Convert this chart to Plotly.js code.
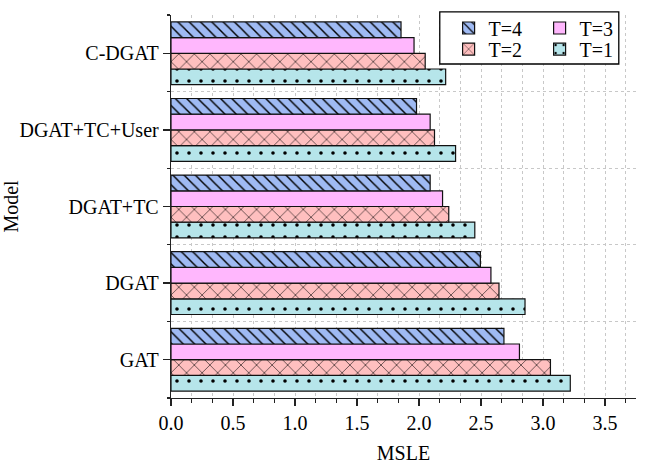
<!DOCTYPE html>
<html>
<head>
<meta charset="utf-8">
<script src="https://cdn.plot.ly/plotly-3.0.1.min.js"></script>
<style>html,body{margin:0;padding:0;background:#fff;}#chart{width:645px;height:464px;}</style>
</head>
<body>
<div id="chart"></div>
<script>
// Models listed bottom-to-top as drawn on the y axis
const models = ['GAT', 'DGAT', 'DGAT+TC', 'DGAT+TC+User', 'C-DGAT'];
const seriesNames = ['T=1', 'T=2', 'T=3', 'T=4'];
const msleT1 = [3.22, 2.855, 2.45, 2.295, 2.215];
const msleT2 = [3.06, 2.645, 2.24, 2.125, 2.05];
const msleT3 = [2.81, 2.58, 2.19, 2.09, 1.96];
const msleT4 = [2.685, 2.495, 2.09, 1.98, 1.855];
const xTickVals = [0, 0.5, 1, 1.5, 2, 2.5, 3, 3.5];
const xTickText = ['0.0', '0.5', '1.0', '1.5', '2.0', '2.5', '3.0', '3.5'];

const pos = models.map((m, i) => i);
const FONT = 'Liberation Serif';

const styles = [
  {color: '#b6e5ea', shape: '.', size: 12, solidity: 0.07, legend: 'legend2'},
  {color: '#ffbfbf', shape: 'x', size: 11, solidity: 0.1, legend: 'legend2'},
  {color: '#ffb7fd', shape: '', size: 8, solidity: 0.2, legend: 'legend'},
  {color: '#9fbaf3', shape: '\\', size: 8, solidity: 0.18, legend: 'legend'}
];
const values = [msleT1, msleT2, msleT3, msleT4];

const traces = values.map((v, k) => ({
  type: 'bar',
  orientation: 'h',
  name: seriesNames[k],
  x: v,
  y: pos,
  legend: styles[k].legend,
  marker: {
    color: styles[k].color,
    line: {color: '#111', width: 1.2},
    pattern: {
      shape: styles[k].shape, fillmode: 'replace',
      bgcolor: styles[k].color, fgcolor: '#000',
      size: styles[k].size, solidity: styles[k].solidity
    }
  },
  hoverinfo: 'x+name'
}));

const legendCommon = {
  orientation: 'h',
  traceorder: 'reversed',
  xanchor: 'left',
  yanchor: 'top',
  bgcolor: 'rgba(0,0,0,0)',
  borderwidth: 0,
  font: {family: FONT, size: 20, color: '#000'},
  entrywidth: 46,
  entrywidthmode: 'pixels',
  itemwidth: 30
};

const layout = {
  width: 645,
  height: 464,
  margin: {l: 171, r: 9, t: 8, b: 66},
  paper_bgcolor: '#fff',
  plot_bgcolor: '#fff',
  font: {family: FONT, size: 20, color: '#000'},
  barmode: 'group',
  bargap: 0.18,
  bargroupgap: 0,
  showlegend: true,
  legend: Object.assign({}, legendCommon, {x: 0.597, y: 1.017}),
  legend2: Object.assign({}, legendCommon, {x: 0.597, y: 0.962}),
  xaxis: {
    range: [0, 3.75],
    tickmode: 'array',
    tickvals: xTickVals,
    ticktext: xTickText,
    ticks: 'outside',
    ticklen: 7,
    tickwidth: 1.3,
    tickcolor: '#222',
    showline: true,
    linecolor: '#222',
    linewidth: 1.3,
    showgrid: true,
    gridcolor: '#c8c8c8',
    griddash: 'dot',
    gridwidth: 1,
    zeroline: false,
    tickfont: {family: FONT, size: 20, color: '#000'},
    minor: {
      tick0: 0, dtick: 0.5 / 3, ticks: 'outside', ticklen: 4, tickwidth: 1.2, tickcolor: '#222',
      showgrid: true, gridcolor: '#c8c8c8', griddash: 'dot', gridwidth: 1
    },
    title: {text: 'MSLE', font: {family: FONT, size: 20, color: '#000'}, standoff: 18}
  },
  yaxis: {
    range: [-0.5, 4.5],
    tickmode: 'array',
    tickvals: pos,
    ticktext: models,
    ticks: 'outside',
    ticklen: 7,
    tickwidth: 1.3,
    tickcolor: '#222',
    showline: true,
    linecolor: '#222',
    linewidth: 1.3,
    showgrid: false,
    zeroline: false,
    tickfont: {family: FONT, size: 20, color: '#000'},
    minor: {
      tick0: 0.5, dtick: 1, ticks: 'outside', ticklen: 3, tickwidth: 1.2, tickcolor: '#222',
      showgrid: true, gridcolor: '#c8c8c8', griddash: 'dot', gridwidth: 1
    },
    title: {text: 'Model', font: {family: FONT, size: 20, color: '#000'}, standoff: 0}
  },
  shapes: [{
    type: 'rect', xref: 'paper', yref: 'paper',
    x0: 0.578, x1: 0.963, y0: 0.872, y1: 1.008,
    line: {color: '#000', width: 1.3}, fillcolor: '#fff', layer: 'above'
  }]
};

Plotly.newPlot('chart', traces, layout, {displayModeBar: false, staticPlot: true});
</script>
</body>
</html>
